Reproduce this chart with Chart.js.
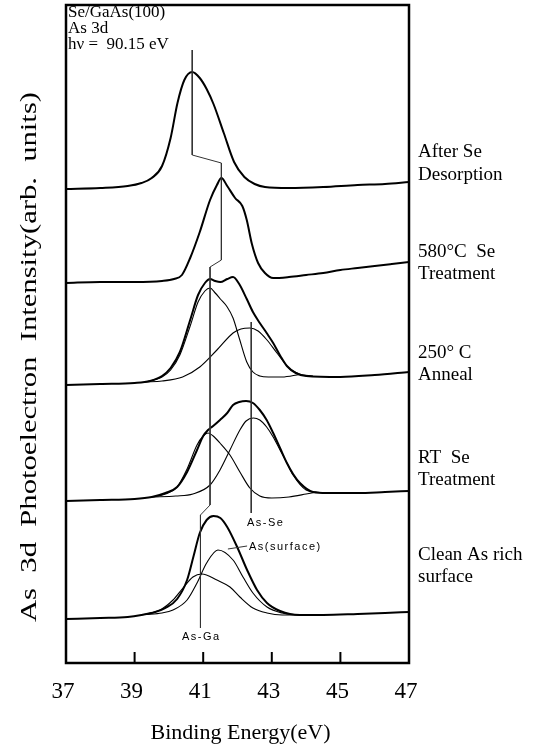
<!DOCTYPE html>
<html>
<head>
<meta charset="utf-8">
<script src="https://cdn.jsdelivr.net/npm/chart.js@4.4.0/dist/chart.umd.min.js"></script>
<style>
  html, body { margin: 0; padding: 0; background: #fff; }
  #wrap { width: 544px; height: 744px; }
</style>
</head>
<body>
<div id="wrap"><canvas id="xps" width="544" height="744"></canvas></div>
<script>
// As 3d spectra, binding energy (eV) vs intensity (arb. units, stacked)
const tickLabels = [37, 39, 41, 43, 45, 47];
const innerTicks = [39, 41, 43, 45];

// After Se desorption
const desorbE = [37.0, 38.0, 38.8, 39.2, 39.5, 39.8, 40.05, 40.25, 40.45, 40.68, 40.9, 41.1, 41.3, 41.6, 41.9, 42.2, 42.5, 42.8, 43.5, 44.5, 45.5, 46.3, 47.0];
const desorbTotal = [47.4, 47.5, 47.7, 48.0, 48.5, 49.7, 52.5, 56.0, 58.3, 59.1, 58.5, 57.4, 55.9, 53.0, 50.1, 48.6, 47.9, 47.6, 47.5, 47.6, 47.8, 47.9, 48.1];

// 580 C Se treatment
const t580E = [37.0, 38.0, 39.0, 39.8, 40.15, 40.38, 40.62, 40.9, 41.2, 41.4, 41.53, 41.7, 41.93, 42.14, 42.27, 42.42, 42.6, 42.8, 43.04, 43.5, 44.0, 44.5, 45.0, 45.5, 46.0, 46.5, 47.0];
const t580Total = [38.0, 38.1, 38.1, 38.2, 38.4, 38.8, 40.5, 43.1, 46.3, 47.8, 48.5, 47.7, 46.5, 45.7, 44.3, 41.9, 40.0, 39.0, 38.5, 38.6, 38.8, 39.0, 39.3, 39.5, 39.7, 39.9, 40.1];

// 250 C anneal
const a250E = [37.0, 38.0, 39.0, 39.45, 39.8, 40.05, 40.32, 40.62, 40.85, 41.05, 41.2, 41.35, 41.5, 41.7, 41.87, 42.05, 42.27, 42.45, 42.65, 42.85, 43.04, 43.25, 43.44, 43.7, 44.0, 45.0, 46.0, 47.0];
const a250Total = [27.8, 27.9, 28.0, 28.2, 28.7, 29.5, 31.1, 34.3, 36.8, 38.0, 38.4, 38.2, 38.1, 38.4, 38.6, 37.9, 36.4, 35.1, 34.0, 33.0, 32.0, 30.7, 29.7, 29.0, 28.7, 28.6, 28.8, 29.1];
const a250GaE = [39.3, 39.8, 40.05, 40.32, 40.62, 40.85, 41.05, 41.2, 41.35, 41.5, 41.7, 41.87, 42.05, 42.27, 42.45, 42.65, 42.9, 43.3, 43.8];
const a250Ga = [28.1, 28.6, 29.3, 30.8, 33.7, 36.1, 37.2, 37.5, 37.0, 36.4, 35.6, 34.5, 32.5, 30.1, 29.1, 28.7, 28.6, 28.6, 28.85];
const a250SeE = [39.3, 39.8, 40.4, 40.9, 41.4, 41.87, 42.1, 42.36, 42.6, 42.86, 43.15, 43.53, 43.8, 44.2];
const a250Se = [28.1, 28.2, 28.6, 29.6, 31.3, 33.0, 33.4, 33.5, 33.2, 32.3, 31.0, 29.4, 28.9, 28.7];

// RT Se treatment
const rtE = [37.0, 38.0, 39.0, 39.5, 39.9, 40.24, 40.53, 40.82, 41.0, 41.14, 41.29, 41.49, 41.7, 41.87, 42.05, 42.25, 42.45, 42.65, 42.85, 43.04, 43.24, 43.44, 43.62, 43.82, 44.2, 44.6, 45.5, 46.3, 47.0];
const rtTotal = [16.2, 16.3, 16.4, 16.6, 17.0, 17.6, 19.1, 21.3, 22.7, 23.3, 23.7, 24.3, 25.0, 25.8, 26.1, 26.2, 26.0, 25.3, 24.3, 23.0, 21.5, 20.0, 18.9, 18.0, 17.1, 17.0, 17.0, 17.1, 17.2];
const rtGaE = [39.5, 39.9, 40.24, 40.53, 40.82, 41.0, 41.14, 41.29, 41.49, 41.78, 42.07, 42.36, 42.65, 43.0, 43.5, 44.0, 44.3];
const rtGa = [16.6, 16.9, 17.6, 19.4, 21.8, 22.7, 23.0, 22.7, 22.0, 20.8, 19.1, 17.5, 16.7, 16.5, 16.6, 16.9, 17.1];
const rtSeE = [39.5, 40.2, 40.7, 41.2, 41.49, 41.78, 42.07, 42.25, 42.46, 42.65, 42.85, 43.04, 43.24, 43.44, 43.62, 44.0, 44.4];
const rtSe = [16.6, 16.7, 16.9, 17.8, 19.3, 21.3, 23.3, 24.2, 24.5, 24.3, 23.6, 22.6, 21.3, 20.0, 18.8, 17.3, 17.05];

// clean As rich surface
const cleanE = [37.0, 38.0, 38.8, 39.2, 39.6, 39.9, 40.24, 40.53, 40.72, 40.9, 41.1, 41.3, 41.5, 41.7, 41.99, 42.28, 42.57, 42.86, 43.24, 43.82, 44.5, 45.5, 46.3, 47.0];
const cleanTotal = [4.4, 4.5, 4.6, 4.8, 5.1, 5.5, 6.4, 8.3, 10.7, 13.0, 14.3, 14.7, 14.5, 13.6, 11.6, 9.3, 7.3, 6.0, 5.2, 4.8, 4.8, 4.9, 5.0, 5.1];
const cleanSurfE = [39.3, 39.8, 40.12, 40.53, 40.82, 41.1, 41.43, 41.87, 42.16, 42.45, 42.86, 43.3, 43.8];
const cleanSurf = [4.85, 5.0, 5.3, 6.3, 8.0, 10.0, 11.3, 10.3, 8.6, 7.0, 5.6, 5.0, 4.8];
const cleanGaE = [39.2, 39.74, 40.12, 40.41, 40.7, 40.96, 41.4, 41.78, 42.07, 42.45, 42.86, 43.3, 43.8];
const cleanGa = [4.8, 5.3, 6.3, 7.5, 8.6, 8.9, 8.3, 7.6, 6.6, 5.5, 5.0, 4.8, 4.8];

// peak position guide lines
const peakGuideE = [40.68, 40.68, 41.53, 41.53, 41.2, 41.2, 40.92, 40.92];
const peakGuideV = [61.3, 50.8, 50.0, 40.3, 39.6, 15.8, 14.8, 3.5];
const asSeGuideE = [42.4, 42.4];
const asSeGuideV = [34.1, 15.0];
const surfLeaderE = [41.72, 42.28];
const surfLeaderV = [11.4, 11.7];

function pts(xs, ys) { return xs.map((x, i) => ({ x: x, y: ys[i] })); }

function curve(xs, ys, width) {
  return {
    data: pts(xs, ys),
    borderColor: '#000',
    borderWidth: width,
    pointRadius: 0,
    cubicInterpolationMode: 'monotone',
    fill: false
  };
}
function guide(xs, ys) {
  return {
    data: pts(xs, ys),
    borderColor: '#333',
    borderWidth: 1,
    pointRadius: 0,
    tension: 0,
    fill: false
  };
}

const SERIF = '"Liberation Serif", "DejaVu Serif", serif';

function fitText(ctx, str, x, y, size, width, align) {
  ctx.save();
  ctx.font = size + 'px ' + SERIF;
  ctx.textBaseline = 'middle';
  ctx.textAlign = 'left';
  const w = ctx.measureText(str).width;
  const k = width ? width / w : 1;
  let x0 = x;
  if (align === 'center') x0 = x - w * k / 2;
  ctx.translate(x0, y);
  ctx.scale(k, 1);
  ctx.fillText(str, 0, 0);
  ctx.restore();
}

function smallLabel(ctx, str, x, y) {
  ctx.save();
  ctx.font = '11px "Liberation Sans", "DejaVu Sans", sans-serif';
  if ('letterSpacing' in ctx) ctx.letterSpacing = '1.5px';
  ctx.textBaseline = 'middle';
  ctx.textAlign = 'left';
  ctx.fillText(str, x, y);
  ctx.restore();
}

const framePlugin = {
  id: 'frame',
  afterDatasetsDraw(chart) {
    const ctx = chart.ctx;
    const a = chart.chartArea;
    const xs = chart.scales.x;
    ctx.save();
    ctx.fillStyle = '#000';
    ctx.strokeStyle = '#000';
    // box
    ctx.lineWidth = 2.5;
    ctx.strokeRect(a.left, a.top, a.right - a.left, a.bottom - a.top);
    // inward ticks
    ctx.lineWidth = 2;
    innerTicks.forEach(v => {
      const px = xs.getPixelForValue(v);
      ctx.beginPath();
      ctx.moveTo(px, a.bottom);
      ctx.lineTo(px, a.bottom - 11);
      ctx.stroke();
    });
    // tick labels
    tickLabels.forEach(v => {
      fitText(ctx, String(v), xs.getPixelForValue(v) - 3, a.bottom + 29, 23, 0, 'center');
    });
    fitText(ctx, 'Binding Energy(eV)', (a.left + a.right) / 2 + 3, 733, 22, 180, 'center');

    // y title
    ctx.save();
    ctx.translate(30, 357);
    ctx.rotate(-Math.PI / 2);
    fitText(ctx, 'As  3d  Photoelectron  Intensity(arb.  units)', 0, 0, 23, 530, 'center');
    ctx.restore();

    // top-left notes
    fitText(ctx, 'Se/GaAs(100)', 68, 13, 17, 0);
    fitText(ctx, 'As 3d', 68, 29, 17, 0);
    fitText(ctx, 'h\u03bd =  90.15 eV', 68, 45, 17, 0);

    // right-hand labels
    const rl = a.right + 9;
    fitText(ctx, 'After Se', rl, 152, 19, 0);
    fitText(ctx, 'Desorption', rl, 175, 19, 0);
    fitText(ctx, '580\u00b0C  Se', rl, 252, 19, 0);
    fitText(ctx, 'Treatment', rl, 274, 19, 0);
    fitText(ctx, '250\u00b0 C', rl, 353, 19, 0);
    fitText(ctx, 'Anneal', rl, 375, 19, 0);
    fitText(ctx, 'RT  Se', rl, 458, 19, 0);
    fitText(ctx, 'Treatment', rl, 480, 19, 0);
    fitText(ctx, 'Clean As rich', rl, 555, 19, 0);
    fitText(ctx, 'surface', rl, 577, 19, 0);

    // component labels
    smallLabel(ctx, 'As-Se', 247, 523);
    smallLabel(ctx, 'As(surface)', 249, 547);
    smallLabel(ctx, 'As-Ga', 182, 637);
    ctx.restore();
  }
};

new Chart(document.getElementById('xps'), {
  type: 'line',
  data: {
    datasets: [
      guide(peakGuideE, peakGuideV),
      guide(asSeGuideE, asSeGuideV),
      guide(surfLeaderE, surfLeaderV),
      curve(desorbE, desorbTotal, 2),
      curve(t580E, t580Total, 2),
      curve(a250GaE, a250Ga, 1.1),
      curve(a250SeE, a250Se, 1.1),
      curve(a250E, a250Total, 2),
      curve(rtGaE, rtGa, 1.1),
      curve(rtSeE, rtSe, 1.1),
      curve(rtE, rtTotal, 2),
      curve(cleanSurfE, cleanSurf, 1.1),
      curve(cleanGaE, cleanGa, 1.1),
      curve(cleanE, cleanTotal, 2)
    ]
  },
  options: {
    responsive: false,
    animation: false,
    devicePixelRatio: 1,
    layout: { padding: { left: 66, right: 135, top: 5, bottom: 81 } },
    scales: {
      x: { type: 'linear', min: 37, max: 47, display: false },
      y: { type: 'linear', min: 0, max: 65.8, display: false }
    },
    plugins: {
      legend: { display: false },
      tooltip: { enabled: false }
    }
  },
  plugins: [framePlugin]
});
</script>
</body>
</html>
